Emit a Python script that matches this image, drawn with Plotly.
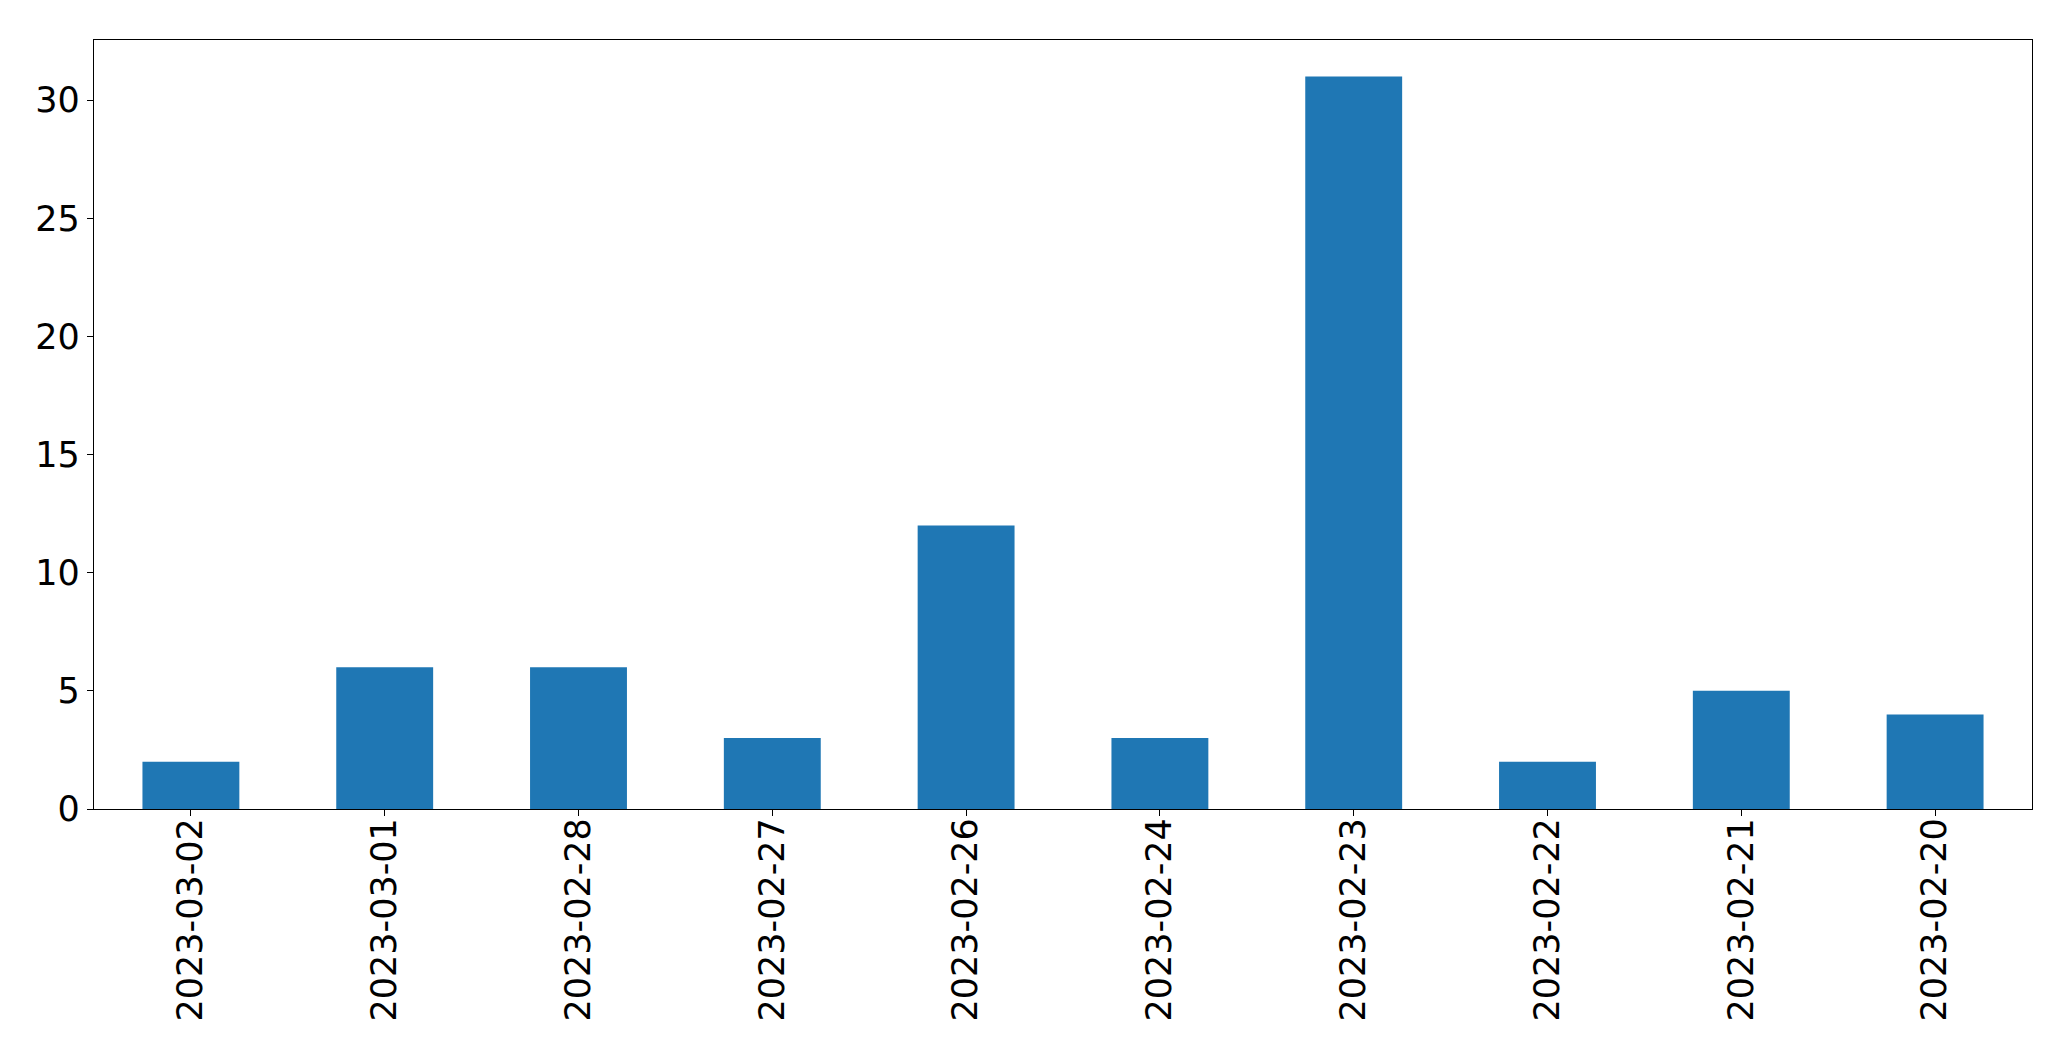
import plotly.graph_objects as go

dates = ["2023-03-02", "2023-03-01", "2023-02-28", "2023-02-27", "2023-02-26",
         "2023-02-24", "2023-02-23", "2023-02-22", "2023-02-21", "2023-02-20"]
counts = [2, 6, 6, 3, 12, 3, 31, 2, 5, 4]
y_ticks = [0, 5, 10, 15, 20, 25, 30]

fig = go.Figure(go.Bar(x=dates, y=counts, marker_color="#1f77b4",
                       marker_line_width=0, width=0.5))

fig.update_layout(
    width=2055, height=1045,
    margin=dict(l=86, r=31, t=32, b=244),
    plot_bgcolor="white", paper_bgcolor="white",
    font=dict(family="DejaVu Sans", size=35, color="black"),
    showlegend=False,
)
fig.update_xaxes(type="category", range=[-0.5, len(dates) - 0.5],
                 showline=True, linecolor="black", linewidth=1.3, mirror=True,
                 ticks="outside", ticklen=6, tickcolor="black", tickwidth=1.3,
                 tickangle=-90, showgrid=False, tickfont=dict(size=35),
                 ticklabelstandoff=-12)
fig.update_yaxes(range=[0, 31 * 1.05], tickvals=y_ticks,
                 showline=True, linecolor="black", linewidth=1.3, mirror=True,
                 ticks="outside", ticklen=6, tickcolor="black", tickwidth=1.3,
                 showgrid=False, zeroline=False, tickfont=dict(size=35))

fig.write_html("out.html")
